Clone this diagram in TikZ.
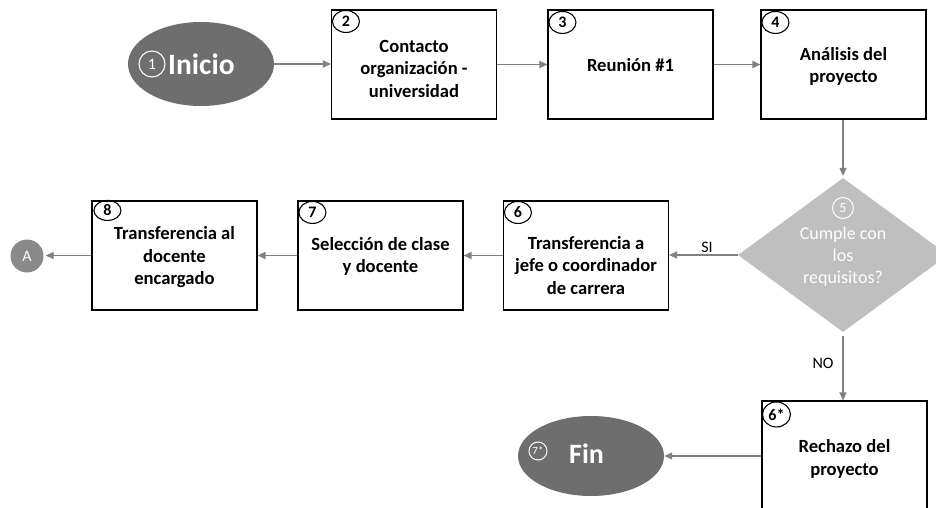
\documentclass[tikz,border=0pt]{standalone}
\usepackage{fontspec}
\setmainfont{Carlito}
\usetikzlibrary{shapes.geometric,arrows.meta}
\definecolor{darkell}{HTML}{6E6E6E}
\definecolor{lightdia}{HTML}{BFBFBF}
\definecolor{arrgray}{HTML}{808080}
\definecolor{circA}{HTML}{8A8A8A}
\begin{document}
\begin{tikzpicture}[x=1pt,y=-1pt,
  stepbox/.style={draw=black,line width=1.1pt,fill=white,minimum width=165pt,minimum height=109pt,inner sep=0pt},
  boxtxt/.style={font=\bfseries\fontsize{18.6}{22.5}\selectfont,align=center,inner sep=0pt},
  numc/.style={draw=black,line width=1.1pt,ellipse,inner sep=0pt,minimum width=27pt,minimum height=22pt,font=\bfseries\fontsize{16}{16}\selectfont},
  termell/.style={ellipse,fill=darkell,inner sep=0pt},
  flow/.style={draw=arrgray,line width=1.3pt,-{Triangle[length=8pt,width=7pt]}},
  lbl/.style={font=\fontsize{16}{16}\selectfont,inner sep=0pt}
]
\useasboundingbox (0,0) rectangle (936,508);
\clip (0,0) rectangle (936,508);
\fill[white] (0,0) rectangle (936,508);

% start
\node[termell,minimum width=146pt,minimum height=84pt] (ini) at (201,64) {};
\node[draw=white,line width=1.1pt,circle,minimum size=26pt,inner sep=0pt,text=white,font=\fontsize{16}{16}\selectfont] (c1) at (152,64) {1};
\node[text=white,font=\bfseries\fontsize{29.5}{29.5}\selectfont,anchor=west,inner sep=0pt] (initxt) at (168,64) {Inicio};

% top row
\node[stepbox] (b2) at (414,64.5) {};
\node[stepbox] (b3) at (630.5,64.5) {};
\node[stepbox] (b4) at (843.5,64.5) {};
\node[boxtxt] (t2) at ([yshift=-4pt]b2.center) {Contacto\\organización -\\universidad};
\node[boxtxt] (t3) at ([yshift=-1pt]b3.center) {Reunión \#1};
\node[boxtxt] (t4) at ([yshift=-2pt]b4.center) {Análisis del\\proyecto};
\node[numc] (n2) at ([xshift=15pt,yshift=-12pt]b2.north west) {2};
\node[numc] (n3) at ([xshift=15pt,yshift=-13pt]b3.north west) {3};
\node[numc] (n4) at ([xshift=15pt,yshift=-13pt]b4.north west) {4};

% decision
\node[diamond,fill=lightdia,inner sep=0pt,minimum width=210pt,minimum height=154pt] (d5) at (843,255) {};
\node[draw=white,line width=1pt,circle,minimum size=21pt,inner sep=0pt,text=white,font=\fontsize{14}{14}\selectfont] (c5) at (843,208) {5};
\node[text=white,font=\fontsize{18}{22}\selectfont,align=center,inner sep=0pt] (t5) at (843,257) {Cumple con\\los\\requisitos?};

% middle row
\node[stepbox] (b6) at (586,255.5) {};
\node[stepbox] (b7) at (380.5,255.5) {};
\node[stepbox] (b8) at (174.5,255.5) {};
\node[boxtxt] (t6) at ([yshift=-10pt]b6.center) {Transferencia a\\jefe o coordinador\\de carrera};
\node[boxtxt] (t7) at ([yshift=-1pt]b7.center) {Selección de clase\\y docente};
\node[boxtxt] (t8) at ([yshift=-2pt]b8.center) {Transferencia al\\docente\\encargado};
\node[numc] (n6) at ([xshift=15pt,yshift=-12pt]b6.north west) {6};
\node[numc] (n7) at ([xshift=15pt,yshift=-12pt]b7.north west) {7};
\node[numc,minimum height=20pt] (n8) at ([xshift=16pt,yshift=-10pt]b8.north west) {8};

\node[circle,fill=circA,minimum size=33pt,inner sep=0pt,text=white,font=\fontsize{16}{16}\selectfont] (ca) at (27,256) {A};

% reject
\node[stepbox,minimum height=110pt] (b6s) at (844.5,456) {};
\node[boxtxt] (t6s) at ([yshift=-3pt]b6s.center) {Rechazo del\\proyecto};
\node[numc,minimum width=28pt,minimum height=25pt] (n6s) at ([xshift=15pt,yshift=-14pt]b6s.north west) {6*};

\node[termell,minimum width=146pt,minimum height=80pt] (fin) at (591,456) {};
\node[draw=white,line width=1pt,circle,minimum size=18pt,inner sep=0pt,text=white,font=\fontsize{11}{11}\selectfont] (c7) at (538,451) {7*};
\node[text=white,font=\bfseries\fontsize{28}{28}\selectfont,anchor=west,inner sep=0pt] (fintxt) at (569,454) {Fin};

% connectors
\draw[flow] (ini.east) -- (ini.east -| b2.west);
\draw[flow] (b2.east) -- (b3.west);
\draw[flow] (b3.east) -- (b4.west);
\draw[flow] (b4.south -| d5.north) -- ([yshift=2pt]d5.north);
\draw[flow] (d5.west) -- (d5.west -| b6.east);
\draw[flow] (b6.west) -- (b7.east);
\draw[flow] (b7.west) -- (b8.east);
\draw[flow] (b8.west) -- ([xshift=2pt]b8.west -| ca.east);
\draw[flow] ([yshift=-4pt]d5.south) -- (d5.south |- b6s.north);
\draw[flow] (b6s.west) -- (b6s.west -| fin.east);

\node[lbl] (si) at (707,247) {SI};
\node[lbl] (no) at (823,363) {NO};
\end{tikzpicture}
\end{document}
